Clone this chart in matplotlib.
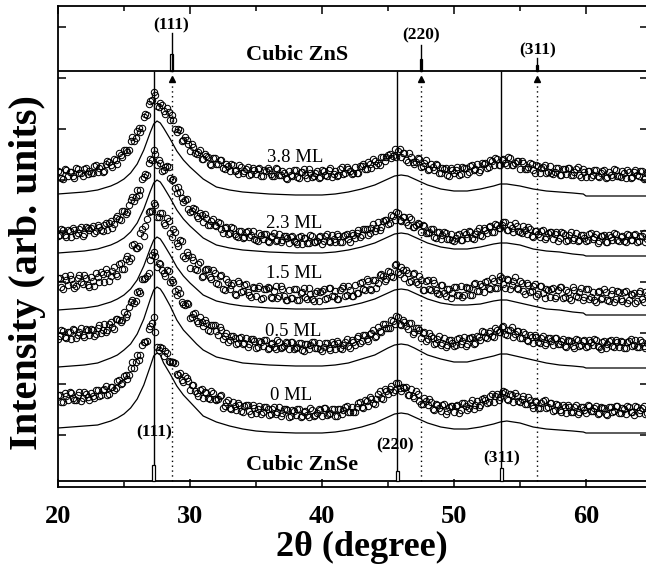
import numpy as np
import matplotlib.pyplot as plt
from matplotlib.patches import Rectangle

plt.rcParams['font.family'] = ['Liberation Serif', 'DejaVu Serif']

# measured scan grids, 2theta in degrees (two interleaved passes, step 0.25)
two_theta = np.arange(20.0, 64.76, 0.25)
two_theta_b = np.arange(20.125, 64.9, 0.25)

samples = ["3.8 ML", "2.3 ML", "1.5 ML", "0.5 ML", "0 ML"]

# observed intensities (stacked, arb. units), first pass
obs_38 = [316, 309, 318, 311, 315, 309, 318, 314, 318, 313,
          314, 321, 315, 321, 316, 326, 322, 328, 323, 332,
          337, 335, 346, 346, 356, 355, 370, 372, 386, 395,
          381, 384, 376, 379, 367, 367, 355, 357, 347, 347,
          336, 340, 333, 337, 328, 331, 323, 329, 323, 327,
          319, 323, 316, 322, 317, 322, 314, 318, 312, 319,
          313, 319, 311, 316, 317, 311, 319, 312, 316, 309,
          316, 311, 317, 309, 315, 312, 318, 310, 314, 309,
          317, 312, 317, 310, 316, 312, 320, 314, 318, 313,
          320, 314, 321, 318, 325, 319, 326, 324, 330, 326,
          332, 329, 338, 336, 330, 334, 325, 330, 323, 329,
          320, 324, 317, 323, 317, 322, 314, 318, 312, 319,
          314, 320, 313, 319, 313, 321, 317, 323, 317, 323,
          319, 327, 322, 328, 322, 328, 322, 329, 322, 326,
          318, 324, 318, 324, 317, 322, 314, 320, 314, 321,
          313, 319, 312, 318, 313, 319, 312, 318, 312, 318,
          310, 316, 312, 317, 310, 316, 309, 315, 310, 317,
          311, 316, 309, 315, 310, 317, 311, 316, 309, 314]
obs_23 = [251, 258, 252, 257, 250, 257, 254, 260, 253, 259,
          259, 254, 262, 257, 262, 257, 266, 263, 271, 267,
          276, 275, 287, 286, 297, 297, 310, 312, 328, 337,
          322, 324, 317, 321, 309, 308, 294, 295, 285, 288,
          275, 279, 271, 274, 265, 269, 262, 268, 261, 264,
          254, 260, 254, 259, 251, 256, 249, 255, 250, 256,
          247, 254, 248, 253, 245, 251, 246, 253, 247, 251,
          244, 251, 245, 250, 243, 249, 244, 251, 245, 250,
          243, 251, 246, 252, 245, 251, 245, 252, 248, 254,
          249, 257, 252, 258, 252, 259, 256, 265, 260, 267,
          263, 272, 267, 274, 266, 270, 262, 268, 260, 264,
          255, 261, 254, 258, 250, 255, 248, 255, 248, 253,
          246, 252, 247, 255, 249, 255, 248, 256, 252, 259,
          254, 261, 255, 262, 259, 265, 257, 262, 255, 261,
          255, 261, 253, 258, 250, 256, 250, 257, 250, 255,
          248, 255, 249, 254, 246, 252, 247, 254, 247, 252,
          246, 253, 248, 253, 246, 251, 245, 252, 247, 253,
          246, 251, 245, 252, 247, 253, 246, 251, 245, 252]
obs_15 = [209, 200, 211, 202, 208, 199, 209, 205, 212, 202,
          210, 201, 210, 215, 205, 214, 211, 220, 211, 224,
          218, 231, 229, 243, 239, 254, 251, 268, 276, 284,
          270, 274, 264, 269, 254, 258, 244, 247, 231, 235,
          219, 227, 217, 225, 211, 218, 210, 217, 204, 211,
          198, 208, 198, 204, 192, 204, 196, 203, 192, 200,
          191, 201, 189, 198, 199, 189, 201, 191, 198, 187,
          197, 189, 198, 187, 195, 190, 199, 188, 194, 186,
          196, 188, 199, 191, 196, 188, 199, 191, 201, 191,
          202, 194, 205, 197, 206, 197, 207, 204, 213, 206,
          216, 211, 222, 215, 220, 209, 214, 206, 214, 203,
          207, 197, 207, 197, 204, 194, 202, 194, 198, 189,
          200, 192, 201, 192, 199, 192, 203, 196, 203, 195,
          206, 198, 206, 199, 211, 203, 208, 198, 206, 199,
          206, 196, 204, 195, 201, 191, 201, 194, 198, 190,
          199, 191, 200, 189, 197, 189, 200, 191, 195, 187,
          198, 188, 195, 185, 196, 189, 195, 186, 197, 188,
          195, 186, 196, 187, 192, 184, 194, 188, 195, 186]
obs_05 = [148, 157, 150, 155, 148, 157, 152, 159, 150, 157,
          158, 151, 159, 154, 163, 157, 165, 158, 168, 165,
          175, 173, 185, 184, 195, 194, 208, 211, 227, 235,
          220, 223, 214, 217, 205, 205, 192, 194, 183, 184,
          169, 173, 166, 170, 161, 164, 156, 162, 156, 160,
          148, 154, 147, 151, 143, 149, 143, 149, 143, 148,
          139, 146, 141, 147, 139, 144, 138, 145, 140, 145,
          138, 145, 139, 144, 137, 143, 138, 145, 139, 144,
          136, 144, 139, 145, 138, 144, 138, 145, 141, 147,
          142, 151, 146, 152, 146, 154, 150, 160, 155, 163,
          159, 167, 163, 170, 162, 165, 158, 164, 155, 159,
          149, 155, 148, 151, 143, 148, 142, 149, 142, 147,
          141, 148, 143, 150, 143, 149, 143, 151, 147, 155,
          149, 156, 150, 157, 155, 161, 152, 157, 150, 156,
          149, 155, 147, 152, 144, 150, 144, 151, 144, 149,
          142, 149, 143, 148, 140, 146, 141, 148, 141, 146,
          140, 147, 142, 147, 140, 145, 139, 146, 141, 147,
          140, 145, 139, 146, 141, 147, 140, 145, 139, 146]
obs_00 = [92, 85, 94, 87, 94, 87, 92, 86, 95, 90,
          94, 89, 97, 92, 98, 92, 100, 97, 106, 103,
          111, 108, 119, 119, 132, 132, 145, 146, 161, 170,
          140, 140, 131, 134, 125, 125, 113, 114, 105, 109,
          97, 102, 94, 97, 89, 94, 88, 94, 87, 91,
          79, 85, 79, 85, 77, 82, 75, 82, 76, 82,
          74, 81, 75, 80, 72, 78, 73, 80, 74, 78,
          70, 77, 72, 78, 71, 76, 70, 77, 72, 78,
          71, 79, 73, 78, 71, 78, 73, 80, 75, 80,
          75, 84, 80, 87, 81, 88, 83, 93, 89, 98,
          93, 101, 97, 104, 96, 99, 92, 98, 89, 93,
          83, 89, 82, 85, 77, 82, 76, 83, 76, 81,
          75, 82, 77, 84, 77, 84, 78, 86, 82, 89,
          84, 91, 85, 93, 90, 96, 88, 93, 85, 91,
          85, 91, 83, 87, 79, 85, 79, 86, 79, 84,
          76, 83, 77, 82, 74, 80, 75, 82, 75, 80,
          74, 81, 76, 81, 74, 79, 73, 80, 75, 81,
          74, 79, 73, 80, 75, 81, 74, 79, 73, 80]

# second pass (offset by half a step)
obs_38_b = [315, 308, 317, 315, 311, 319, 314, 311, 319, 316,
            314, 322, 319, 315, 323, 325, 320, 327, 334, 330,
            337, 337, 350, 349, 359, 359, 373, 383, 387, 392,
            380, 382, 373, 375, 372, 358, 358, 346, 350, 343,
            343, 334, 335, 328, 333, 330, 322, 329, 323, 327,
            318, 321, 323, 316, 313, 320, 316, 320, 313, 317,
            318, 311, 317, 319, 313, 311, 318, 312, 314, 308,
            312, 317, 310, 315, 318, 309, 314, 311, 316, 310,
            316, 311, 319, 313, 311, 318, 313, 320, 316, 314,
            314, 321, 323, 318, 323, 328, 322, 322, 330, 330,
            333, 331, 330, 338, 334, 327, 334, 325, 325, 328,
            321, 327, 318, 320, 323, 314, 319, 319, 311, 317,
            317, 312, 320, 319, 315, 322, 318, 315, 324, 324,
            320, 326, 329, 322, 327, 324, 330, 322, 324, 326,
            326, 318, 320, 323, 314, 321, 319, 322, 315, 314,
            315, 319, 312, 318, 319, 312, 315, 320, 310, 315,
            316, 310, 317, 311, 314, 317, 310, 312, 318, 311,
            310, 314, 317, 309, 315, 312, 316, 308, 315, 316]
obs_23_b = [252, 257, 250, 256, 259, 252, 258, 251, 260, 257,
            261, 256, 260, 256, 264, 264, 259, 269, 268, 276,
            273, 282, 290, 290, 292, 308, 313, 324, 327, 333,
            327, 316, 320, 320, 307, 299, 300, 289, 287, 278,
            276, 278, 269, 272, 273, 262, 266, 262, 265, 258,
            259, 253, 260, 253, 250, 256, 250, 256, 252, 248,
            246, 252, 253, 246, 250, 254, 247, 245, 251, 249,
            250, 246, 243, 251, 249, 244, 252, 245, 246, 251,
            246, 253, 245, 248, 253, 245, 251, 253, 245, 252,
            254, 250, 258, 258, 254, 263, 259, 257, 266, 267,
            264, 271, 275, 267, 270, 265, 270, 260, 262, 263,
            262, 254, 255, 258, 249, 255, 252, 254, 248, 247,
            249, 253, 247, 253, 256, 249, 253, 259, 251, 257,
            260, 255, 263, 259, 262, 265, 257, 259, 264, 256,
            254, 257, 260, 251, 256, 253, 256, 248, 254, 255,
            253, 246, 255, 252, 247, 255, 249, 246, 252, 249,
            247, 254, 250, 244, 251, 252, 245, 250, 254, 247,
            250, 246, 253, 247, 252, 245, 251, 254, 248, 252]
obs_15_b = [209, 198, 207, 212, 203, 201, 212, 203, 209, 200,
            206, 214, 205, 213, 218, 206, 216, 213, 223, 218,
            228, 226, 242, 239, 241, 258, 261, 275, 276, 282,
            270, 274, 262, 266, 250, 255, 241, 246, 229, 232,
            230, 218, 223, 210, 217, 218, 208, 214, 203, 212,
            197, 205, 202, 193, 206, 195, 202, 195, 190, 199,
            199, 188, 198, 200, 190, 196, 189, 201, 191, 187,
            189, 198, 187, 194, 199, 188, 193, 186, 196, 195,
            198, 189, 199, 191, 188, 197, 201, 192, 197, 191,
            194, 204, 198, 208, 198, 207, 199, 212, 211, 208,
            215, 210, 223, 213, 217, 217, 205, 213, 205, 211,
            197, 206, 198, 207, 197, 193, 202, 191, 198, 194,
            200, 192, 190, 200, 199, 192, 204, 196, 201, 205,
            199, 209, 199, 207, 209, 199, 207, 202, 210, 198,
            204, 193, 202, 196, 203, 193, 201, 189, 197, 198,
            189, 197, 200, 190, 195, 187, 197, 190, 199, 190,
            198, 190, 187, 195, 188, 198, 187, 193, 185, 196,
            188, 195, 184, 193, 194, 186, 196, 185, 192, 187]
obs_05_b = [151, 156, 149, 155, 158, 149, 155, 152, 158, 152,
            157, 153, 162, 157, 155, 163, 160, 168, 167, 167,
            170, 180, 187, 186, 196, 208, 209, 214, 232, 231,
            224, 217, 211, 216, 207, 196, 198, 185, 182, 183,
            170, 174, 164, 165, 167, 157, 162, 162, 152, 157,
            151, 145, 151, 149, 144, 150, 144, 140, 148, 146,
            140, 145, 147, 138, 143, 140, 147, 139, 141, 144,
            145, 138, 140, 144, 136, 143, 142, 145, 139, 138,
            140, 144, 137, 143, 146, 139, 142, 148, 139, 145,
            149, 144, 152, 148, 153, 157, 151, 156, 163, 159,
            159, 166, 171, 163, 167, 161, 164, 153, 159, 157,
            154, 146, 154, 149, 144, 151, 144, 140, 147, 144,
            142, 149, 146, 141, 149, 150, 144, 150, 156, 150,
            154, 151, 159, 155, 160, 153, 157, 160, 153, 156,
            149, 153, 146, 150, 152, 145, 149, 142, 149, 146,
            149, 143, 146, 141, 147, 146, 139, 147, 142, 147,
            141, 145, 148, 141, 138, 146, 143, 147, 140, 145,
            146, 139, 145, 148, 142, 140, 147, 141, 144, 138]
obs_00_b = [92, 85, 91, 95, 89, 87, 95, 89, 93, 87,
            91, 97, 91, 97, 101, 93, 100, 99, 107, 104,
            112, 112, 125, 125, 127, 142, 145, 158, 164, 155,
            137, 139, 136, 126, 125, 124, 112, 107, 111, 106,
            102, 96, 91, 98, 95, 89, 96, 88, 88, 92,
            81, 87, 78, 81, 84, 76, 81, 82, 73, 79,
            78, 73, 80, 78, 73, 80, 75, 71, 78, 77,
            71, 76, 78, 70, 75, 72, 79, 71, 74, 77,
            79, 72, 74, 78, 71, 78, 77, 81, 75, 75,
            80, 85, 79, 86, 90, 84, 88, 96, 88, 96,
            98, 95, 104, 99, 100, 100, 92, 91, 96, 86,
            83, 86, 88, 78, 83, 79, 82, 73, 80, 81,
            81, 74, 84, 81, 79, 87, 82, 80, 88, 87,
            85, 93, 91, 87, 94, 95, 87, 92, 94, 86,
            88, 83, 90, 82, 86, 79, 84, 87, 80, 84,
            77, 82, 75, 80, 82, 75, 80, 73, 80, 77,
            82, 76, 79, 73, 80, 79, 72, 80, 76, 81,
            74, 78, 81, 75, 72, 80, 77, 81, 74, 79]

# fitted curves
fit_x = [20, 21, 22, 23, 24, 24.5, 25, 25.5, 26, 26.5,
         27, 27.25, 27.5, 27.75, 28, 28.5, 29, 29.5, 30, 30.5,
         31, 32, 33, 34, 35, 36, 38, 40, 41, 42,
         43, 44, 45, 45.5, 46, 46.5, 47, 48, 49, 50,
         51, 52, 53, 53.5, 54, 55, 56, 57, 58, 59,
         59.8, 60, 61, 62, 63, 64, 65]
fit_38 = [293, 294, 295, 297, 301, 304, 308, 314, 323, 337,
          355, 363, 366, 364, 359, 348, 336, 327, 320, 314,
          308, 300, 297, 295, 294, 293, 292, 292, 293, 295,
          298, 302, 308, 311, 312, 311, 308, 302, 298, 296,
          296, 298, 301, 303, 303, 301, 298, 296, 295, 294,
          293, 291, 291, 291, 291, 291, 291]
fit_23 = [234, 235, 236, 238, 242, 245, 249, 255, 264, 278,
          296, 304, 307, 305, 300, 289, 277, 268, 261, 255,
          249, 242, 239, 237, 236, 235, 234, 234, 235, 237,
          240, 244, 250, 253, 254, 253, 250, 244, 240, 238,
          238, 240, 243, 244, 244, 242, 238, 236, 235, 233,
          232, 231, 231, 231, 231, 231, 231]
fit_15 = [177, 178, 179, 181, 185, 188, 192, 198, 207, 221,
          239, 247, 250, 248, 243, 232, 220, 211, 204, 198,
          192, 186, 183, 181, 180, 179, 178, 178, 179, 181,
          184, 188, 194, 197, 198, 197, 194, 188, 184, 182,
          182, 183, 186, 187, 187, 184, 181, 178, 177, 175,
          174, 172, 172, 172, 172, 172, 172]
fit_05 = [120, 121, 122, 124, 129, 132, 137, 143, 153, 168,
          188, 197, 200, 198, 193, 181, 167, 157, 150, 143,
          137, 130, 127, 124, 123, 122, 121, 121, 122, 124,
          128, 132, 139, 142, 143, 142, 139, 132, 128, 125,
          125, 128, 131, 133, 133, 130, 127, 124, 122, 121,
          120, 119, 119, 119, 119, 119, 119]
fit_00 = [59, 60, 61, 62, 66, 69, 73, 79, 88, 102,
          121, 131, 134, 132, 124, 113, 101, 92, 85, 78,
          71, 65, 61, 58, 56, 55, 54, 54, 55, 57,
          60, 64, 70, 73, 74, 73, 70, 64, 60, 58,
          58, 60, 63, 65, 66, 64, 60, 58, 57, 56,
          55, 54, 54, 54, 54, 54, 54]

observed = [obs_38, obs_23, obs_15, obs_05, obs_00]
observed_b = [obs_38_b, obs_23_b, obs_15_b, obs_05_b, obs_00_b]
fitted = [fit_38, fit_23, fit_15, fit_05, fit_00]

# reference patterns
znse_pos = [27.25, 45.7, 53.6]
znse_hkl = ["(111)", "(220)", "(311)"]
znse_int = [16, 10, 13]
zns_pos = [28.6, 47.5, 56.3]
zns_hkl = ["(111)", "(220)", "(311)"]
zns_int = [38, 26, 13]

zns_base = 416
znse_base = 6

fig = plt.figure(figsize=(6.46, 5.67), dpi=100)
ax = fig.add_axes([58 / 646, 80 / 567, 590 / 646, 481 / 567])

for obs, obs_b, fit in zip(observed, observed_b, fitted):
    ax.plot(two_theta, obs, 'o', mfc='none', mec='black', ms=4.6, mew=0.75, zorder=3)
    ax.plot(two_theta_b, obs_b, 'o', mfc='none', mec='black', ms=4.6, mew=0.75, zorder=3)
    ax.plot(fit_x, fit, color='black', lw=0.9, zorder=2)

label_x = [38.0, 37.9, 37.9, 37.8, 37.7]
label_y = [329, 264, 213, 156, 91]
for name, lx, ly in zip(samples, label_x, label_y):
    ax.text(lx, ly, name, ha='center', va='center', fontsize=13.5, zorder=4)

# panel separators
ax.axhline(zns_base, color='black', lw=1.3)
ax.axhline(znse_base, color='black', lw=1.3)

# ZnSe peak positions (solid) and ZnS positions (dotted)
ax.vlines(znse_pos, znse_base, zns_base, color='black', lw=1.0)
ax.vlines(zns_pos, znse_base, zns_base - 8, color='black', lw=1.0,
          linestyles=(0, (1, 2.5)))
ax.plot(zns_pos, [zns_base - 8] * 3, '^', color='black', ms=4)

for p, h in zip(zns_pos, zns_int):
    ax.add_patch(Rectangle((p - 0.1, zns_base), 0.2, h * 0.45,
                           fc='white', ec='black', lw=0.9))
    ax.plot([p, p], [zns_base, zns_base + h], color='black', lw=1.0)
for p, h in zip(znse_pos, znse_int):
    ax.add_patch(Rectangle((p - 0.1, znse_base), 0.2, h,
                           fc='white', ec='black', lw=0.9, zorder=3))

zns_lab_y = [462, 452, 437]
for p, t, ly in zip(zns_pos, zns_hkl, zns_lab_y):
    ax.text(p, ly, t, ha='center', va='center', fontsize=12.5, fontweight='bold')
znse_lab_x = [27.25, 45.5, 53.6]
znse_lab_y = [55, 42, 29]
for lx, t, ly in zip(znse_lab_x, znse_hkl, znse_lab_y):
    ax.text(lx, ly, t, ha='center', va='center', fontsize=12.5, fontweight='bold')

ax.text(38.1, 432, "Cubic ZnS", ha='center', va='center', fontsize=16, fontweight='bold')
ax.text(38.5, 22, "Cubic ZnSe", ha='center', va='center', fontsize=16, fontweight='bold')

ax.set_xlim(20, 64.7)
ax.set_ylim(0, 481)
ax.set_xticks([20, 30, 40, 50, 60])
ax.set_xticks([25, 35, 45, 55], minor=True)
ax.set_yticks([52, 103, 154, 205, 256, 307, 358, 409, 460])
ax.set_yticklabels([])
ax.tick_params(which='both', direction='in', top=True, right=True, width=1.1)
ax.tick_params(which='major', length=6, labelsize=19, pad=13)
ax.tick_params(which='minor', length=3.5)
for lab in ax.get_xticklabels():
    lab.set_fontweight('bold')
for sp in ax.spines.values():
    sp.set_linewidth(1.3)

fig.text(0.56, 0.035, "2θ (degree)", ha='center', va='center',
         fontsize=26, fontweight='bold')
fig.text(0.043, 0.52, "Intensity (arb. units)", ha='center', va='center',
         rotation=90, fontsize=29, fontweight='bold')

fig.savefig("out.png", dpi=100)
